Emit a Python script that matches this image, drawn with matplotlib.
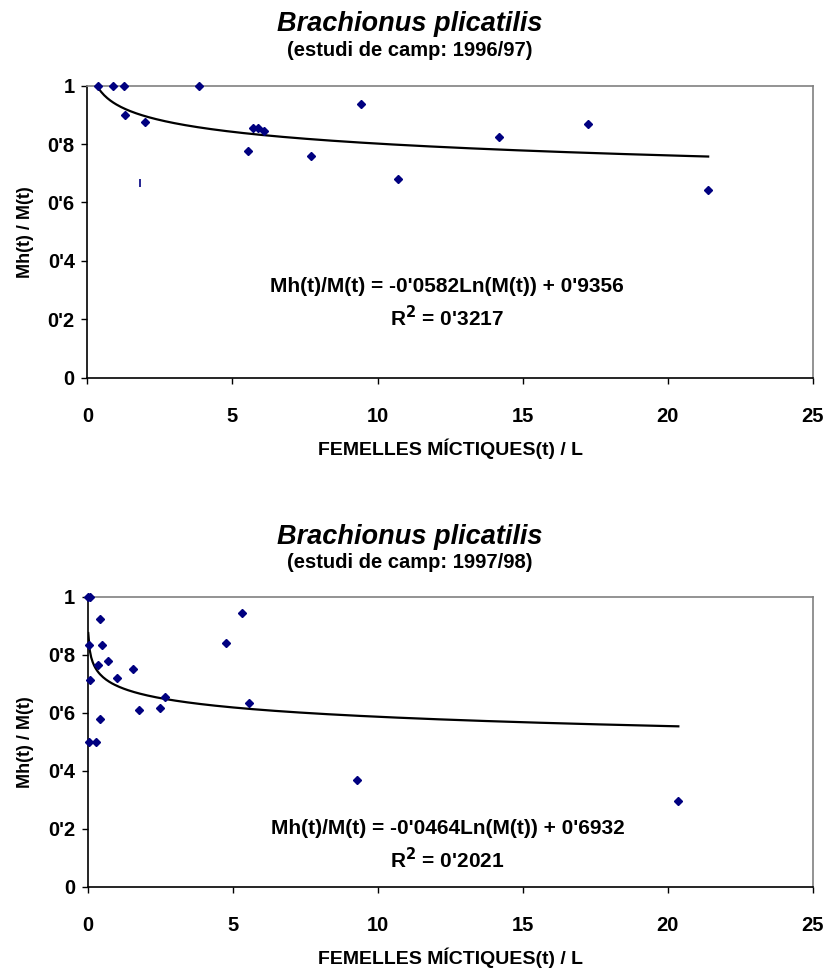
import numpy as np
import matplotlib.pyplot as plt
from matplotlib.ticker import FuncFormatter

plt.rcParams['font.family'] = ['Liberation Sans', 'DejaVu Sans']
plt.rcParams['font.weight'] = 'bold'

# Camp 1996/97: femelles míctiques/L i proporció Mh(t)/M(t)
x_9697 = [0.37, 0.90, 1.25, 1.31, 1.99, 3.86, 5.52, 5.71, 5.89, 6.09,
          7.72, 9.43, 10.71, 14.2, 17.24, 21.39]
y_9697 = [1.0, 1.0, 1.0, 0.90, 0.876, 1.0, 0.777, 0.856, 0.856, 0.844,
          0.760, 0.936, 0.680, 0.824, 0.870, 0.642]
# punt mal dibuixat (només es veu una ratlla)
x_9697_tall = [1.82]
y_9697_tall = [0.666]
a_9697, b_9697, r2_9697 = -0.0582, 0.9356, 0.3217

# Camp 1997/98
x_9798 = [0.02, 0.08, 0.03, 0.08, 0.03, 0.29, 0.36, 0.42, 0.43, 0.49,
          0.71, 1.0, 1.55, 1.77, 2.50, 2.67, 4.78, 5.33, 5.57, 9.30, 20.36]
y_9798 = [1.0, 1.0, 0.835, 0.713, 0.50, 0.50, 0.764, 0.578, 0.923, 0.834,
          0.777, 0.721, 0.750, 0.610, 0.616, 0.656, 0.839, 0.944, 0.635,
          0.369, 0.297]
a_9798, b_9798, r2_9798 = -0.0464, 0.6932, 0.2021

titol = 'Brachionus plicatilis'
subtitols = ['(estudi de camp: 1996/97)', '(estudi de camp: 1997/98)']
xlabel = 'FEMELLES MÍCTIQUES(t) / L'
ylabel = 'Mh(t) / M(t)'


def coma(v, pos):
    # format català amb apòstrof com a separador decimal
    if abs(v - round(v)) < 1e-9:
        return '%d' % round(v)
    return ('%g' % v).replace('.', "'")


def grafic(ax, xs, ys, a, b, r2, eq_y):
    ax.plot(xs, ys, linestyle='none', marker='D', ms=4.3, color='#000080',
            clip_on=False, zorder=3)
    xx = np.linspace(min(xs), max(xs), 400)
    ax.plot(xx, a * np.log(xx) + b, color='black', lw=1.6, zorder=2)

    ax.set_xlim(0, 25)
    ax.set_ylim(0, 1)
    ax.set_xticks(np.arange(0, 26, 5))
    ax.set_yticks(np.arange(0, 1.01, 0.2))
    ax.yaxis.set_major_formatter(FuncFormatter(coma))
    ax.tick_params(direction='out', length=4, width=1, labelsize=14.5, pad=5)
    ax.tick_params(axis='x', pad=17)
    for s in ('left', 'bottom'):
        ax.spines[s].set_color('black')
        ax.spines[s].set_linewidth(1.2)
    for s in ('top', 'right'):
        ax.spines[s].set_color('#808080')
        ax.spines[s].set_linewidth(1.2)

    ax.set_xlabel(xlabel, fontsize=14, fontweight='bold', labelpad=9)
    ax.set_ylabel(ylabel, fontsize=13, fontweight='bold', labelpad=10)

    txt_eq = "Mh(t)/M(t) = -%s" % coma(-a, 0) + "Ln(M(t)) + %s" % coma(b, 0)
    ax.text(12.4, eq_y, txt_eq, ha='center', va='center', fontsize=15)
    ax.text(12.4, eq_y - 0.105, r"R$^{\mathbf{2}}$ = %s" % coma(r2, 0),
            ha='center', va='center', fontsize=15)


fig = plt.figure(figsize=(8.27, 9.68), dpi=100)
ax1 = fig.add_axes([0.1056, 0.6098, 0.8774, 0.3017])
ax2 = fig.add_axes([0.1060, 0.0837, 0.8770, 0.2999])

grafic(ax1, x_9697, y_9697, a_9697, b_9697, r2_9697, 0.312)
ax1.plot(x_9697_tall, y_9697_tall, linestyle='none', marker='|', ms=6,
         mew=1.2, color='#000080')
grafic(ax2, x_9798, y_9798, a_9798, b_9798, r2_9798, 0.20)

# títols centrats a la figura
for y_t, y_s, sub in ((0.975, 0.948, subtitols[0]), (0.445, 0.419, subtitols[1])):
    fig.text(0.496, y_t, titol, ha='center', va='center', fontsize=19.5,
             style='italic')
    fig.text(0.496, y_s, sub, ha='center', va='center', fontsize=14.5)

fig.savefig('out.png', dpi=100)
